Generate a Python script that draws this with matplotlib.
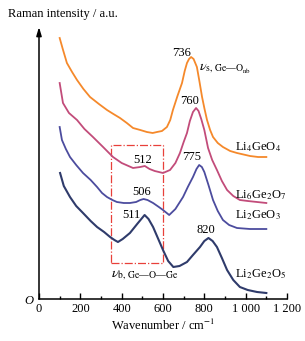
import matplotlib
matplotlib.use("Agg")
import matplotlib.pyplot as plt
from matplotlib.patches import Rectangle

plt.rcParams['font.family'] = ['Liberation Serif', 'DejaVu Serif']
plt.rcParams['mathtext.fontset'] = 'stix'

# Li4GeO4 (orange)
w_o = [100, 115, 135, 160, 184, 215, 247, 290, 329, 360, 392, 425, 455, 490, 522, 550, 571, 595, 619, 635, 648, 670, 692, 705, 716, 726, 736, 748, 764, 776, 789, 801, 813, 828, 842, 865, 890, 925, 958, 1021, 1060, 1100]
i_o = [261, 250, 236, 227, 219, 210, 202, 195, 189, 185, 181, 176, 171, 169, 167, 166, 167, 168, 172, 179, 189, 203, 216, 228, 236, 240, 242, 240, 232, 218, 202, 190, 179, 169, 162, 156, 152, 148, 146, 143, 142, 142]
# Li6Ge2O7 (magenta)
w_m = [100, 116, 145, 184, 220, 261, 310, 358, 400, 455, 490, 512, 535, 560, 600, 634, 660, 682, 700, 716, 730, 745, 760, 772, 785, 800, 818, 838, 861, 885, 910, 940, 972, 1010, 1055, 1100]
i_m = [216, 196, 186, 179, 170, 162, 152, 142, 136, 131, 132, 133, 130, 128, 126, 129, 136, 146, 157, 166, 178, 187, 191, 188, 180, 169, 151, 139, 129, 118, 109, 103, 99, 98, 97, 96]
# Li2GeO3 (blue)
w_b = [100, 111, 130, 150, 180, 213, 250, 281, 305, 329, 355, 377, 410, 440, 470, 490, 506, 525, 552, 580, 600, 630, 660, 697, 720, 745, 762, 775, 788, 800, 820, 842, 865, 890, 920, 958, 1021, 1100]
i_b = [172, 159, 150, 142, 134, 126, 119, 112, 106, 102, 99, 97, 96, 96, 97, 99, 100, 99, 96, 92, 89, 84, 90, 102, 112, 122, 130, 134, 132, 127, 114, 99, 88, 79, 74, 71, 70, 70]
# Li2Ge2O5 (navy)
w_n = [102, 120, 150, 180, 213, 250, 281, 315, 344, 365, 382, 405, 440, 475, 511, 530, 552, 575, 600, 625, 650, 680, 716, 745, 779, 800, 820, 840, 861, 885, 910, 940, 972, 1010, 1055, 1100]
i_n = [126, 113, 102, 93, 86, 78, 72, 67, 62, 59, 57, 60, 66, 75, 84, 80, 72, 61, 49, 38, 32, 33, 37, 44, 52, 58, 61, 58, 52, 41, 29, 19, 12, 9, 7, 6]

xticks = [0, 200, 400, 600, 800, 1000, 1200]
xticklabels = ['0', '200', '400', '600', '800', '1 000', '1 200']

fig = plt.figure(figsize=(3.05, 3.41), dpi=100)
ax = fig.add_axes([39/305, 42/341, 248/305, 272/341])
ax.set_xlim(0, 1200)
ax.set_ylim(0, 272)

ax.plot(w_o, i_o, color='#F5892B', lw=1.3)
ax.plot(w_m, i_m, color='#C24C7A', lw=1.3)
ax.plot(w_b, i_b, color='#4C4C9E', lw=1.3)
ax.plot(w_n, i_n, color='#2F3B6B', lw=1.5)

ax.add_patch(Rectangle((350, 36), 250, 118, fill=False, edgecolor='#E8403A',
                       lw=0.9, linestyle='-.'))

for s in ['top', 'right']:
    ax.spines[s].set_visible(False)
ax.spines['left'].set_visible(False)
ax.spines['bottom'].set_linewidth(1.1)
ax.annotate('', xy=(0, 1.0), xytext=(0, 0), xycoords='axes fraction',
            arrowprops=dict(arrowstyle='-|>,head_length=0.5,head_width=0.15',
                            color='black', lw=1.1, shrinkA=0, shrinkB=0))

ax.set_yticks([])
ax.set_xticks(xticks)
ax.set_xticklabels(xticklabels, fontsize=9)
ax.set_xticks(range(100, 1200, 200), minor=True)
ax.tick_params(axis='x', which='major', direction='in', length=4, width=1.0, pad=3)
ax.tick_params(axis='x', which='minor', direction='in', length=2.5, width=1.0)

ax.text(-50, -2, 'O', fontsize=9, style='italic', ha='center', va='center')
ax.set_xlabel('Wavenumber / cm$^{-1}$', fontsize=9, labelpad=2)
fig.text(8/305, 1 - 14/341, 'Raman intensity / a.u.', fontsize=9, ha='left', va='center')

fs = 9
ax.text(690, 246, '736', fontsize=fs, ha='center', va='center')
ax.text(776, 231, r'$\nu_{\mathrm{s,\,Ge{—}O_{nb}}}$', fontsize=10, ha='left', va='center')
ax.text(730, 198, '760', fontsize=fs, ha='center', va='center')
ax.text(740, 142, '775', fontsize=fs, ha='center', va='center')
ax.text(503, 139, '512', fontsize=fs, ha='center', va='center')
ax.text(498, 107, '506', fontsize=fs, ha='center', va='center')
ax.text(445, 84, '511', fontsize=fs, ha='center', va='center')
ax.text(808, 69, '820', fontsize=fs, ha='center', va='center')
ax.text(350, 24, r'$\nu_{\mathrm{b,\,Ge{—}O{—}Ge}}$', fontsize=10, ha='left', va='center')

ax.text(948, 152, r'Li$_4$GeO$_4$', fontsize=fs, ha='left', va='center')
ax.text(948, 104, r'Li$_6$Ge$_2$O$_7$', fontsize=fs, ha='left', va='center')
ax.text(948, 84, r'Li$_2$GeO$_3$', fontsize=fs, ha='left', va='center')
ax.text(948, 25, r'Li$_2$Ge$_2$O$_5$', fontsize=fs, ha='left', va='center')

fig.savefig('out.png', dpi=100)
